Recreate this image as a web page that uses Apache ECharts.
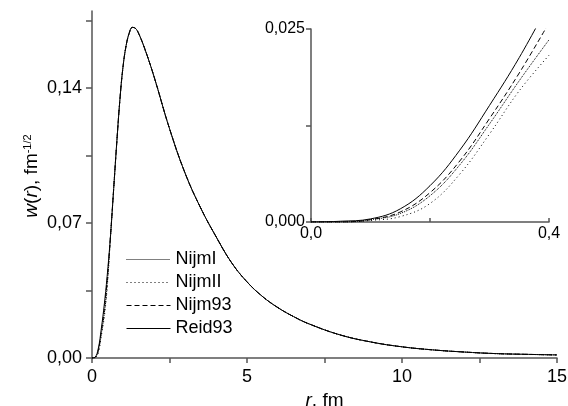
<!DOCTYPE html>
<html>
<head>
<meta charset="utf-8">
<script src="https://cdn.jsdelivr.net/npm/echarts@6/dist/echarts.min.js"></script>
<style>
  html, body { margin: 0; padding: 0; background: #fff; }
  #chart { width: 568px; height: 406px; }
</style>
</head>
<body>
<div id="chart"></div>
<script>
'use strict';

// main plot: r in fm
var rMain = [0, 0.1, 0.2, 0.3, 0.4, 0.5, 0.6, 0.7, 0.8, 0.9, 1.0, 1.1, 1.2, 1.3, 1.4, 1.5, 1.7, 2.0,
  2.5, 3.0, 3.5, 4.0, 4.5, 5.0, 5.5, 6.0, 6.5, 7, 8, 9, 10, 11, 12, 13, 14, 15];
// small-r part differs per potential (r = 0 .. 0.5)
var headNijmI  = [0, 0.0003, 0.0034, 0.0127, 0.0236, 0.0400];
var headNijmII = [0, 0.0002, 0.0024, 0.0114, 0.0216, 0.0385];
var headNijm93 = [0, 0.0003, 0.0038, 0.0135, 0.0258, 0.0425];
var headReid93 = [0, 0.0004, 0.0047, 0.0152, 0.0283, 0.0445];
// r >= 0.6, all four curves coincide at this scale
var wTail = [0.064, 0.088, 0.112, 0.134, 0.151, 0.162, 0.1685, 0.1715, 0.171, 0.1685, 0.1605, 0.146,
  0.119, 0.096, 0.078, 0.063, 0.0495, 0.0395, 0.0319, 0.0261, 0.0215, 0.0177, 0.0120, 0.0083,
  0.0058, 0.0042, 0.0031, 0.0023, 0.0019, 0.0016];

// inset: 0 .. 0.4 fm
var rInset = [0, 0.05, 0.1, 0.15, 0.2, 0.25, 0.3, 0.35, 0.4];
var insetNijmI  = [0, 0, 0.0003, 0.0011, 0.0034, 0.0074, 0.0127, 0.0183, 0.0236];
var insetNijmII = [0, 0, 0.0002, 0.0007, 0.0024, 0.0062, 0.0114, 0.0170, 0.0216];
var insetNijm93 = [0, 0, 0.0003, 0.0013, 0.0038, 0.0079, 0.0134, 0.0193, 0.0258];
var insetReid93 = [0, 0.0001, 0.0004, 0.0017, 0.0047, 0.0093, 0.0151, 0.0213, 0.0283];

var names = ['NijmI', 'NijmII', 'Nijm93', 'Reid93'];
var dashes = [[1, 1], [1, 3], [5, 3], 'solid'];
var heads = [headNijmI, headNijmII, headNijm93, headReid93];
var insets = [insetNijmI, insetNijmII, insetNijm93, insetReid93];

function pairs(xs, ys) {
  return xs.map(function(x, i) { return [x, ys[i]]; });
}
function comma(v, d) {
  return v.toFixed(d).replace('.', ',');
}

var FONT = '"Liberation Sans", Arial, sans-serif';
var axisColor = '#555';

var series = [];
names.forEach(function(name, i) {
  series.push({
    name: name, type: 'line', xAxisIndex: 0, yAxisIndex: 0,
    data: pairs(rMain, heads[i].concat(wTail)),
    symbol: 'none', smooth: 0.4,
    lineStyle: { color: '#000', width: 1, type: dashes[i] }
  });
  series.push({
    name: name, type: 'line', xAxisIndex: 1, yAxisIndex: 1,
    data: pairs(rInset, insets[i]),
    symbol: 'none', smooth: 0.4, clip: true,
    lineStyle: { color: '#000', width: 1, type: dashes[i] }
  });
});

var myChart = echarts.init(document.getElementById('chart'));
var option = {
  animation: false,
  backgroundColor: '#fff',
  textStyle: { fontFamily: FONT },
  grid: [
    { left: 92, right: 11, top: 11, bottom: 48, outerBoundsMode: 'none' },
    { left: 311, right: 19, top: 29, bottom: 184, outerBoundsMode: 'none' }
  ],
  legend: {
    data: names, orient: 'vertical', left: 121, top: 245.5,
    itemWidth: 44, itemHeight: 14, itemGap: 5,
    itemStyle: { opacity: 0 },
    lineStyle: { width: 1, color: '#000' },
    textStyle: { fontSize: 18, color: '#000', fontFamily: FONT }
  },
  // y axis title, placed by hand (sits a bit above the axis middle in the original)
  graphic: [{
    type: 'text', x: 32, y: 176, rotation: Math.PI / 2,
    style: {
      text: '{i|w}({i|r}), fm{s|-1/2}',
      fontSize: 19, fontFamily: FONT, fill: '#000',
      align: 'center', verticalAlign: 'middle',
      rich: {
        i: { fontSize: 19, fontStyle: 'italic', fontFamily: FONT },
        s: { fontSize: 11, fontFamily: FONT, verticalAlign: 'top', padding: [0, 0, 8, 0] }
      }
    }
  }],
  xAxis: [{
    gridIndex: 0, type: 'value', min: 0, max: 15, interval: 2.5,
    name: '{i|r}, fm', nameLocation: 'middle', nameGap: 28,
    nameTextStyle: { fontSize: 19, color: '#000', rich: { i: { fontSize: 19, fontStyle: 'italic' } } },
    axisLine: { lineStyle: { color: axisColor, width: 1.5 } },
    axisTick: { length: 5, lineStyle: { color: axisColor, width: 1.5 } },
    axisLabel: { fontSize: 18, color: '#000', margin: 10,
      formatter: function(v) { return v % 5 === 0 ? String(v) : ''; } },
    splitLine: { show: false }
  }, {
    gridIndex: 1, type: 'value', min: 0, max: 0.4, interval: 0.2,
    axisLine: { lineStyle: { color: axisColor, width: 1.5 } },
    axisTick: { inside: true, length: 4, lineStyle: { color: axisColor, width: 1.5 } },
    axisLabel: { fontSize: 16, color: '#000', margin: 4,
      formatter: function(v) { return Math.abs(v - 0.2) < 1e-9 ? '' : comma(v, 1); } },
    splitLine: { show: false }
  }],
  yAxis: [{
    gridIndex: 0, type: 'value', min: 0, max: 0.18,
    axisLine: { lineStyle: { color: axisColor, width: 1.5 } },
    axisTick: { length: 6, customValues: [0, 0.035, 0.07, 0.105, 0.14, 0.175],
      lineStyle: { color: axisColor, width: 1.5 } },
    axisLabel: { fontSize: 18, color: '#000', margin: 10, customValues: [0, 0.07, 0.14],
      formatter: function(v) { return comma(v, 2); } },
    splitLine: { show: false }
  }, {
    gridIndex: 1, type: 'value', min: 0, max: 0.025, interval: 0.0125,
    axisLine: { lineStyle: { color: axisColor, width: 1.5 } },
    axisTick: { length: 5, lineStyle: { color: axisColor, width: 1.5 } },
    axisLabel: { fontSize: 16, color: '#000', margin: 6,
      formatter: function(v) { return Math.abs(v - 0.0125) < 1e-9 ? '' : comma(v, 3); } },
    splitLine: { show: false }
  }],
  series: series
};
myChart.setOption(option);
</script>
</body>
</html>
